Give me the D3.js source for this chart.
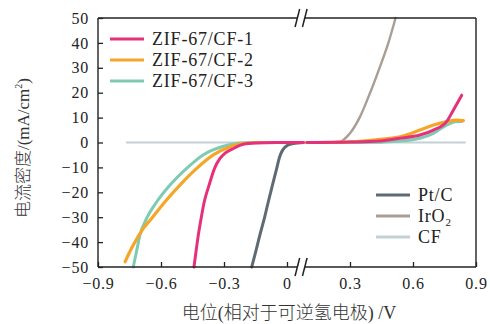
<!DOCTYPE html>
<html>
<head>
<meta charset="utf-8">
<script src="https://cdn.jsdelivr.net/npm/d3@7"></script>
<style>
  body { margin: 0; background: #fff; }
  svg { display: block; }
</style>
</head>
<body>
<script>
// series values, [potential V, current density mA/cm2]
const ptcLeft = [[-0.168, -50], [-0.148, -43.5], [-0.129, -37.1], [-0.108, -30.5], [-0.089, -23.8], [-0.069, -17], [-0.049, -10.4], [-0.036, -6], [-0.025, -3.7], [-0.01, -1.9], [0.005, -1], [0.03, -0.4], [0.078, 0]];
const iro2Right = [[0.094, 0], [0.2, 0], [0.252, 0.3], [0.275, 1.5], [0.3, 3.7], [0.348, 10.4], [0.395, 19.8], [0.443, 30.5], [0.482, 39.8], [0.517, 50]];
const cfLeft = [[-0.763, 0], [0.078, 0]];
const cfRight = [[0.094, 0], [0.848, 0]];
const zif1Left = [[-0.443, -50], [-0.432, -43], [-0.422, -37], [-0.408, -30], [-0.394, -23.8], [-0.371, -17.1], [-0.345, -10.4], [-0.32, -6.5], [-0.295, -4.3], [-0.248, -2.1], [-0.208, -0.7], [-0.15, -0.2], [-0.05, 0], [0.078, 0]];
const zif1Right = [[0.094, 0], [0.3, 0.2], [0.443, 0.6], [0.538, 1.7], [0.633, 3], [0.697, 5], [0.76, 8.4], [0.792, 13], [0.832, 19]];
const zif2Left = [[-0.771, -47.9], [-0.752, -44.5], [-0.732, -41.2], [-0.684, -34.5], [-0.644, -30.4], [-0.581, -23.8], [-0.51, -17.1], [-0.43, -10.4], [-0.351, -5], [-0.271, -1.7], [-0.21, -0.4], [-0.12, 0], [0.078, 0]];
const zif2Right = [[0.094, 0], [0.3, 0.3], [0.443, 1.3], [0.538, 2.3], [0.633, 5], [0.697, 7], [0.76, 8.4], [0.808, 9], [0.84, 8.8]];
const zif3Left = [[-0.732, -50], [-0.716, -43.5], [-0.7, -37.1], [-0.668, -30.4], [-0.62, -23.8], [-0.557, -17.1], [-0.478, -10.4], [-0.4, -5], [-0.311, -1.7], [-0.233, -0.3], [-0.15, 0], [0.078, 0]];
const zif3Right = [[0.094, 0], [0.35, 0], [0.538, 0.6], [0.633, 1.7], [0.697, 3.7], [0.76, 7], [0.808, 8.4], [0.832, 8.4]];

const legendTop = ['ZIF-67/CF-1', 'ZIF-67/CF-2', 'ZIF-67/CF-3'];
const legendBottom = ['Pt/C', 'IrO2', 'CF'];
const xTicks = [-0.9, -0.6, -0.3, 0, 0.3, 0.6, 0.9];
const yTicks = [-50, -40, -30, -20, -10, 0, 10, 20, 30, 40, 50];
const xBreak = 0.067;

const colors = {
  zif1: '#e5317b', zif2: '#f6a627', zif3: '#7fcbb2',
  ptc: '#5f6a72', iro2: '#a89e96', cf: '#c5d0d5'
};

const width = 490;
const height = 324;
const margin = { top: 18, right: 14, bottom: 57, left: 98 };
const serif = "'Liberation Serif', 'Times New Roman', 'Noto Sans CJK SC', serif";

const svg = d3.select('body').append('svg').attr('width', width).attr('height', height);

const x = d3.scaleLinear().domain([-0.9, 0.9]).range([margin.left, width - margin.right]);
const y = d3.scaleLinear().domain([-50, 50]).range([height - margin.bottom, margin.top]);

const line = d3.line().x(d => x(d[0])).y(d => y(d[1])).curve(d3.curveMonotoneX);

const drawSeries = (data, color, w) => {
  svg.append('path')
    .datum(data)
    .attr('fill', 'none')
    .attr('stroke', color)
    .attr('stroke-width', w)
    .attr('stroke-linecap', 'round')
    .attr('d', line);
};

drawSeries(cfLeft, colors.cf, 2);
drawSeries(cfRight, colors.cf, 2);
drawSeries(iro2Right, colors.iro2, 2.4);
drawSeries(ptcLeft, colors.ptc, 3);
drawSeries(zif3Left, colors.zif3, 3);
drawSeries(zif3Right, colors.zif3, 3);
drawSeries(zif2Left, colors.zif2, 3.2);
drawSeries(zif2Right, colors.zif2, 3.2);
drawSeries(zif1Left, colors.zif1, 3);
drawSeries(zif1Right, colors.zif1, 3);

// axes
const fmtX = d => d === 0 ? '0' : d3.format('.1f')(d);
const xAxis = d3.axisBottom(x).tickValues(xTicks).tickFormat(fmtX).tickSizeInner(-5).tickSizeOuter(0).tickPadding(11);
const yAxis = d3.axisLeft(y).tickValues(yTicks).tickSizeInner(-5).tickSizeOuter(0).tickPadding(9);

const gx = svg.append('g').attr('transform', `translate(0, ${y(-50)})`).call(xAxis);
const gy = svg.append('g').attr('transform', `translate(${x(-0.9)}, 0)`).call(yAxis);
[gx, gy].forEach(g => {
  g.select('.domain').remove();
  g.selectAll('line').attr('stroke', '#222').attr('stroke-width', 1.3);
  g.selectAll('text')
    .attr('fill', '#222')
    .style('font-family', serif)
    .style('font-size', '16px')
    .style('letter-spacing', '0.8px');
});

// frame with break gaps on top and bottom
const bx1 = x(xBreak) - 3.7;
const bx2 = x(xBreak) + 3.7;
const frame = svg.append('g').attr('stroke', '#222').attr('stroke-width', 1.4).attr('fill', 'none');
[y(50), y(-50)].forEach(yy => {
  frame.append('line').attr('x1', x(-0.9)).attr('x2', bx1).attr('y1', yy).attr('y2', yy);
  frame.append('line').attr('x1', bx2).attr('x2', x(0.9)).attr('y1', yy).attr('y2', yy);
  [bx1, bx2].forEach(bx => {
    frame.append('line')
      .attr('x1', bx - 2.3).attr('y1', yy + 9)
      .attr('x2', bx + 2.3).attr('y2', yy - 9)
      .attr('stroke-width', 1.5);
  });
});
frame.append('line').attr('x1', x(-0.9)).attr('x2', x(-0.9)).attr('y1', y(50)).attr('y2', y(-50));
frame.append('line').attr('x1', x(0.9)).attr('x2', x(0.9)).attr('y1', y(50)).attr('y2', y(-50));

// legends
const legend = (names, cols, lx, ly, gap) => {
  const g = svg.append('g');
  names.forEach((n, i) => {
    g.append('line')
      .attr('x1', lx).attr('x2', lx + 34)
      .attr('y1', ly + i * gap).attr('y2', ly + i * gap)
      .attr('stroke', cols[i]).attr('stroke-width', 3.2);
    const t = g.append('text')
      .attr('x', lx + 42).attr('y', ly + i * gap + 6)
      .attr('fill', '#222')
      .style('font-family', serif)
      .style('font-size', '18px')
      .style('letter-spacing', '0.8px');
    if (n === 'IrO2') {
      t.append('tspan').text('IrO');
      t.append('tspan').text('2').attr('dy', 4).style('font-size', '11px');
    } else {
      t.text(n);
    }
  });
};
legend(legendTop, [colors.zif1, colors.zif2, colors.zif3], 110, 39, 21);
legend(legendBottom, [colors.ptc, colors.iro2, colors.cf], 376, 195, 21);

// axis titles
svg.append('text')
  .attr('x', (x(-0.9) + x(0.9)) / 2 + 2).attr('y', 319)
  .attr('text-anchor', 'middle')
  .attr('fill', '#333')
  .style('font-family', serif)
  .style('font-size', '18px')
  .style('font-weight', 300)
  .text('电位(相对于可逆氢电极) /V');

const yt = svg.append('text')
  .attr('transform', 'translate(29, 148) rotate(-90)')
  .attr('text-anchor', 'middle')
  .attr('fill', '#333')
  .style('font-family', serif)
  .style('font-size', '17px')
  .style('font-weight', 300);
yt.append('tspan').text('电流密度/(mA/cm');
yt.append('tspan').text('2').attr('dy', -7).style('font-size', '10px');
yt.append('tspan').text(')').attr('dy', 7);
</script>
</body>
</html>
